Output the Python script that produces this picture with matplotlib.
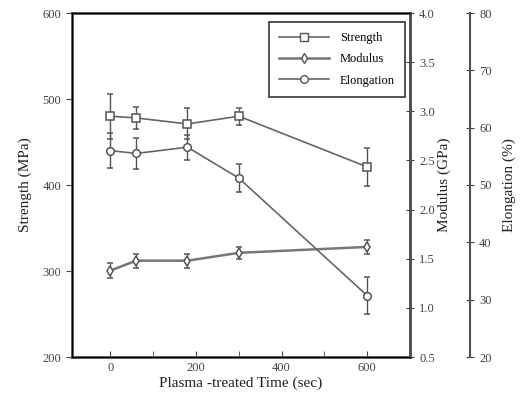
import matplotlib
matplotlib.use("Agg")
import matplotlib.pyplot as plt
from matplotlib.lines import Line2D

plt.rcParams['font.family'] = ['Liberation Serif', 'DejaVu Serif']

# data
time = [0, 60, 180, 300, 600]
strength = [480, 478, 471, 480, 421]
strength_err = [26, 13, 18, 10, 22]
modulus = [1.38, 1.48, 1.48, 1.56, 1.62]
modulus_err = [0.08, 0.07, 0.07, 0.06, 0.07]
elongation = [56.0, 55.5, 56.6, 51.2, 30.7]
elongation_err = [3.0, 2.7, 2.2, 2.5, 3.2]

fig = plt.figure(figsize=(5.21, 4.0), dpi=100)
ax = fig.add_axes([0.138, 0.1075, 0.649, 0.86])
ax2 = ax.twinx()
ax3 = ax.twinx()
ax3.spines['right'].set_position(('axes', 1.178))

lc = '#555555'
style = dict(ms=5.5, mfc='white', mec=lc, mew=1.1, capsize=2, elinewidth=1, ecolor=lc)
ax.errorbar(time, strength, yerr=strength_err, color='#666666', lw=1.2, marker='s',
            **style)
ax2.errorbar(time, modulus, yerr=modulus_err, color='#777777', lw=1.8, marker='d',
             **style)
ax3.errorbar(time, elongation, yerr=elongation_err, color='#666666', lw=1.2,
             marker='o', **style)

ax.set_xlim(-90, 700)
ax.set_ylim(200, 600)
ax2.set_ylim(0.5, 4.0)
ax3.set_ylim(20, 80)

ax.set_xticks([0, 200, 400, 600])
ax.set_xticks([100, 300, 500], minor=True)
ax.set_yticks([200, 300, 400, 500, 600])
ax2.set_yticks([0.5, 1.0, 1.5, 2.0, 2.5, 3.0, 3.5, 4.0])
ax2.set_yticklabels(['0.5', '1.0', '1.5', '2.0', '2.5', '3.0', '3.5', '4.0'])
ax3.set_yticks([20, 30, 40, 50, 60, 70, 80])

tc = '#444444'
ax.tick_params(axis='x', direction='in', length=4, labelsize=9, colors=tc)
ax.tick_params(axis='x', which='minor', direction='in', length=4, colors=tc)
ax.tick_params(axis='y', direction='out', length=4, labelsize=9, colors=tc)
ax2.tick_params(axis='y', direction='inout', length=6, labelsize=9, colors=tc)
ax3.tick_params(axis='y', direction='inout', length=6, labelsize=9, colors=tc)

for s in ax.spines.values():
    s.set_linewidth(2)
    s.set_color('#505050')
ax2.spines['right'].set_linewidth(2)
ax2.spines['right'].set_color('#505050')
for name in ['top', 'left', 'bottom']:
    ax3.spines[name].set_visible(False)
ax3.spines['right'].set_linewidth(1.5)
ax3.spines['right'].set_color('#505050')

ax.set_xlabel('Plasma -treated Time (sec)', fontsize=11, labelpad=2, color='#222222')
ax.set_ylabel('Strength (MPa)', fontsize=11, labelpad=8, color='#222222')
ax2.set_ylabel('Modulus (GPa)', fontsize=11, labelpad=2, color='#222222')
ax3.set_ylabel('Elongation (%)', fontsize=11, labelpad=8, color='#222222')

handles = [
    Line2D([], [], color='#666666', lw=1.2, marker='s', ms=5.5, mfc='white', mec=lc),
    Line2D([], [], color='#777777', lw=1.8, marker='d', ms=5.5, mfc='white', mec=lc),
    Line2D([], [], color='#666666', lw=1.2, marker='o', ms=5.5, mfc='white', mec=lc),
]
labels = ['Strength', 'Modulus', 'Elongation']
leg = ax3.legend(handles, labels, loc='upper right', fontsize=9, fancybox=False,
                 edgecolor='#444444', framealpha=1, handlelength=4.0,
                 labelspacing=0.75, borderpad=0.8, handletextpad=0.9,
                 bbox_to_anchor=(0.985, 0.974), borderaxespad=0)
leg.get_frame().set_linewidth(1.3)

fig.savefig('out.png', dpi=100)
